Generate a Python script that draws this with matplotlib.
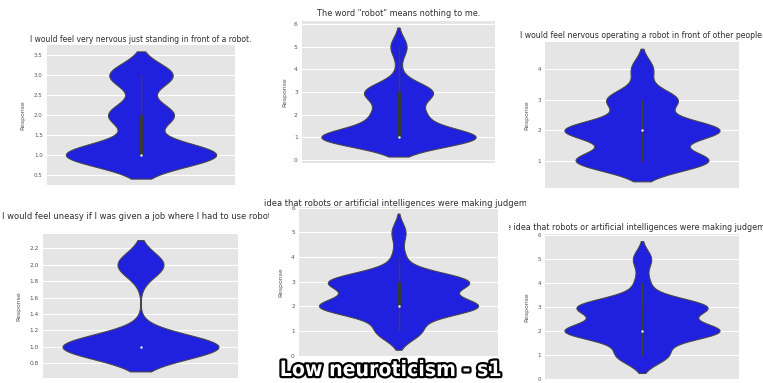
import numpy as np
import matplotlib
matplotlib.use("Agg")
import matplotlib.pyplot as plt
import matplotlib.patheffects as pe
from matplotlib.transforms import Bbox, TransformedBbox

# ---------------- data ----------------
titles = [
    "I would feel very nervous just standing in front of a robot.",
    "The word \"robot\" means nothing to me.",
    "I would feel nervous operating a robot in front of other people.",
    "I would feel uneasy if I was given a job where I had to use robots.",
    "I would hate the idea that robots or artificial intelligences were making judgements about things.",
    "I would hate the idea that robots or artificial intelligences were making judgements about things.",
]
responses_p1 = [1, 2, 3]
counts_p1 = [76, 33, 32]
responses_p2 = [1, 2, 3, 4, 5]
counts_p2 = [76, 23, 33, 2, 8]
responses_p3 = [1, 2, 3, 4]
counts_p3 = [66, 77, 35, 11]
responses_p4 = [1, 2]
counts_p4 = [78, 23]
responses_p5 = [1, 2, 3, 4, 5]
counts_p5 = [22, 78, 69, 6, 7]
responses_p6 = [1, 2, 3, 4, 5]
counts_p6 = [25, 75, 63, 7, 9]
bandwidths = [0.30, 0.42, 0.34, 0.15, 0.38, 0.375]
yticks_p1 = [0.5, 1.0, 1.5, 2.0, 2.5, 3.0, 3.5]
yticks_p2 = [0, 1, 2, 3, 4, 5, 6]
yticks_p3 = [1, 2, 3, 4]
yticks_p4 = [0.8, 1.0, 1.2, 1.4, 1.6, 1.8, 2.0, 2.2]
yticks_p5 = [0, 1, 2, 3, 4, 5, 6]
yticks_p6 = [0, 1, 2, 3, 4, 5, 6]
ylabel = "Response"
caption = "Low neuroticism - s1"

# ---------------- layout (pixels) ----------------
W, H = 763, 383
# axes background boxes: x0, x1, y_top, y_bottom
boxes = [(47, 235, 45, 185), (302, 495, 21, 163), (545, 739, 42, 188),
         (43, 238, 233.5, 378), (299, 498, 206.7, 356.6), (545, 739, 234.4, 379.6)]
title_y = [39, 14, 36, 216, 203, 228]
title_size = [5.5, 5.9, 5.57, 6.0, 6.0, 5.8]
title_clip = [None, None, None, (0, 269), (261, 526), (509.5, 763)]
label_off = [22, 14.5, 16, 22, 16, 16]
tick_size = [4.0, 4.3, 4.1, 4.2, 4.2, 4.1]

data = [(responses_p1, counts_p1, yticks_p1), (responses_p2, counts_p2, yticks_p2),
        (responses_p3, counts_p3, yticks_p3), (responses_p4, counts_p4, yticks_p4),
        (responses_p5, counts_p5, yticks_p5), (responses_p6, counts_p6, yticks_p6)]

violin_color = (0.125, 0.125, 0.875)
line_gray = "#474747"

fig = plt.figure(figsize=(W / 100, H / 100), dpi=100)
fig.patch.set_facecolor("white")

for i, ((resp, cnt, yt), bw) in enumerate(zip(data, bandwidths)):
    x0, x1, yt_px, yb_px = boxes[i]
    ax = fig.add_axes([x0 / W, 1 - yb_px / H, (x1 - x0) / W, (yb_px - yt_px) / H])
    ax.set_facecolor("#E5E5E5")
    for s in ax.spines.values():
        s.set_visible(False)

    resp = np.asarray(resp, float)
    cnt = np.asarray(cnt, float)
    lo_s = resp.min() - 2 * bw
    hi_s = resp.max() + 2 * bw
    y = np.linspace(lo_s, hi_s, 400)
    dens = (cnt[:, None] * np.exp(-0.5 * ((y[None, :] - resp[:, None]) / bw) ** 2)).sum(0)
    half = dens / dens.max() * 0.4
    ax.fill_betweenx(y, -half, half, facecolor=violin_color, edgecolor=line_gray,
                     linewidth=0.75, zorder=2)

    samples = np.repeat(resp, cnt.astype(int))
    q25, q50, q75 = np.percentile(samples, [25, 50, 75])
    lim = 1.5 * (q75 - q25)
    wlo = samples[samples >= q25 - lim].min()
    whi = samples[samples <= q75 + lim].max()
    ax.plot([0, 0], [wlo, whi], color="#404040", lw=1.0, zorder=3)
    ax.plot([0, 0], [q25, q75], color="#383838", lw=2.2, solid_capstyle="butt", zorder=3)
    ax.plot([0], [q50], "o", color="white", ms=1.7, mew=0, zorder=4)

    pad = 0.05 * (hi_s - lo_s)
    ax.set_ylim(lo_s - pad, hi_s + pad)
    ax.set_xlim(-0.5, 0.5)
    ax.set_xticks([])
    ax.set_yticks(yt)
    ax.set_yticklabels([f"{v:.1f}" if isinstance(v, float) else str(v) for v in yt])
    ax.tick_params(axis="y", length=0, pad=3, labelsize=tick_size[i], labelcolor="#555555")
    ax.grid(axis="y", color="white", lw=0.8)
    ax.grid(axis="x", visible=False)
    ax.set_axisbelow(True)
    ax.set_ylabel(ylabel, fontsize=4.4, color="#555555")
    ax.yaxis.set_label_coords(-label_off[i] / (x1 - x0), 0.5)

    cx = (x0 + x1) / 2
    t = fig.text(cx / W, 1 - title_y[i] / H, titles[i], fontsize=title_size[i],
                 color="#2e2e2e", ha="center", va="center")
    if title_clip[i] is not None:
        c0, c1 = title_clip[i]
        bb = TransformedBbox(Bbox([[c0 / W, 0], [c1 / W, 1]]), fig.transFigure)
        t.set_clip_box(bb)
        t.set_clip_on(True)

fig.text(391 / W, 1 - 370 / H, caption, fontsize=15.2, weight="bold",
         fontstretch="condensed", family="DejaVu Sans", color="white",
         ha="center", va="center", zorder=10,
         path_effects=[pe.withStroke(linewidth=3.2, foreground="black")])

fig.savefig("out.png", dpi=100)
